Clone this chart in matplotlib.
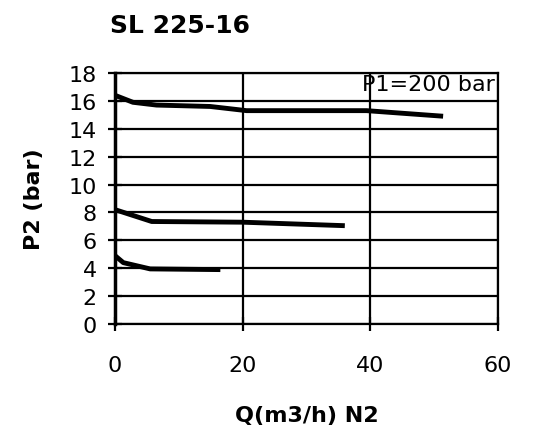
import matplotlib
matplotlib.use('Agg')
import matplotlib.pyplot as plt

plt.rcParams.update({'font.family': 'DejaVu Sans'})

# flow Q (m3/h) and outlet pressure P2 (bar) for three settings
q_high = [0, 2.8, 6.5, 14.9, 20.6, 39.4, 51.4]
p_high = [16.4, 15.9, 15.7, 15.6, 15.3, 15.3, 14.9]

q_mid = [0, 5.75, 20, 36]
p_mid = [8.2, 7.35, 7.3, 7.05]

q_low = [0, 1.3, 5.5, 16.5]
p_low = [4.9, 4.4, 3.95, 3.9]

xticks = [0, 20, 40, 60]
yticks = list(range(0, 19, 2))

fig = plt.figure(figsize=(5.34, 4.27), dpi=100)
ax = fig.add_axes([0.2154, 0.2389, 0.7172, 0.5878])

for q, p in [(q_high, p_high), (q_mid, p_mid), (q_low, p_low)]:
    ax.plot(q, p, color='black', lw=3.5, solid_capstyle='butt', zorder=3)

ax.set_xlim(0, 60)
ax.set_ylim(0, 18)
ax.set_xticks(xticks)
ax.set_yticks(yticks)
ax.grid(True, color='black', lw=1.6)
for s in ax.spines.values():
    s.set_linewidth(1.6)
ax.spines['left'].set_linewidth(2.5)
ax.tick_params(direction='inout', length=10, width=1.6, labelsize=16)
ax.tick_params(axis='x', pad=17)
ax.tick_params(axis='y', pad=8)

ax.text(59.5, 17.9, 'P1=200 bar', ha='right', va='top', fontsize=16)

fig.text(0.206, 0.94, 'SL 225-16', fontsize=18, fontweight='bold', ha='left', va='center')
ax.set_ylabel('P2 (bar)', fontsize=16, fontweight='bold', labelpad=18)
ax.set_xlabel('Q(m3/h) N2', fontsize=16, fontweight='bold', labelpad=22)

fig.savefig('out.png', dpi=100)
